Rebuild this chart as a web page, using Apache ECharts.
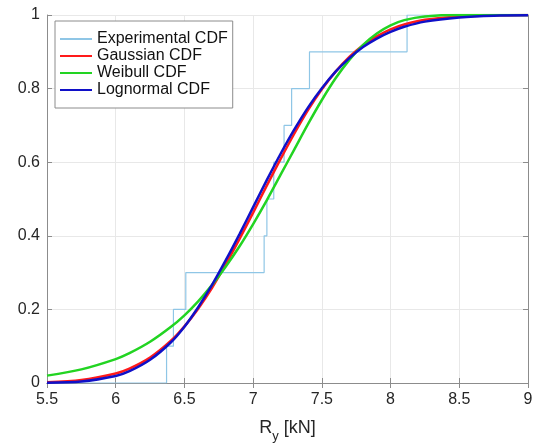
<!DOCTYPE html>
<html>
<head>
<meta charset="utf-8">
<script src="https://cdn.jsdelivr.net/npm/echarts@6/dist/echarts.min.js"></script>
<style>html,body{margin:0;padding:0;background:#fff;}#c{width:538px;height:448px;}</style>
</head>
<body>
<div id="c"></div>
<script>
// Experimental CDF steps (x, cumulative probability)
var expX = [5.5, 6.37, 6.42, 6.51, 7.08, 7.10, 7.15, 7.225, 7.28, 7.41, 8.12, 9.0];
var expY = [0, 0.1, 0.2, 0.3, 0.4, 0.5, 0.6, 0.7, 0.8, 0.9, 1.0, 1.0];

var curveX = [5.5, 5.75, 6.0, 6.1, 6.25, 6.4, 6.5, 6.6, 6.7, 6.8, 6.9, 7.0, 7.1, 7.2, 7.3, 7.4, 7.5, 7.6, 7.7, 7.8, 7.9, 8.0, 8.1, 8.25, 8.5, 8.75, 9.0];
var gaussY = [0.002, 0.008, 0.026, 0.039, 0.069, 0.114, 0.154, 0.202, 0.258, 0.322, 0.391, 0.463, 0.537, 0.609, 0.678, 0.742, 0.798, 0.846, 0.886, 0.918, 0.942, 0.961, 0.974, 0.987, 0.996, 0.999, 1.0];
var weibY  = [0.020, 0.037, 0.065, 0.081, 0.112, 0.152, 0.184, 0.222, 0.266, 0.316, 0.371, 0.432, 0.497, 0.566, 0.635, 0.704, 0.769, 0.828, 0.878, 0.919, 0.950, 0.972, 0.986, 0.996, 1.0, 1.0, 1.0];
var logY   = [0.001, 0.004, 0.019, 0.032, 0.063, 0.110, 0.153, 0.206, 0.266, 0.333, 0.404, 0.478, 0.552, 0.623, 0.689, 0.749, 0.801, 0.846, 0.883, 0.913, 0.936, 0.954, 0.968, 0.982, 0.993, 0.998, 0.999];

var xTicks = [5.5, 6, 6.5, 7, 7.5, 8, 8.5, 9];
var yTicks = [0, 0.2, 0.4, 0.6, 0.8, 1];

var seriesNames = ['Experimental CDF', 'Gaussian CDF', 'Weibull CDF', 'Lognormal CDF'];

function pairs(xs, ys) { return xs.map(function (x, i) { return [x, ys[i]]; }); }

var font = 'Liberation Sans, Arial, Helvetica, sans-serif';
var axisCol = '#8c8c8c';
var textCol = '#262626';

var chart = echarts.init(document.getElementById('c'), null, {renderer: 'canvas'});
chart.setOption({
  animation: false,
  backgroundColor: '#fff',
  grid: {left: 47, right: 10, top: 15, bottom: 62, containLabel: false},
  legend: {
    orient: 'vertical', left: 55, top: 21,
    data: seriesNames,
    icon: 'rect', itemWidth: 32, itemHeight: 2, itemGap: 1,
    backgroundColor: '#fff', borderColor: '#8c8c8c', borderWidth: 1,
    padding: [10, 5, 10, 5],
    textStyle: {fontFamily: font, fontSize: 16, color: '#111'}
  },
  xAxis: [{
    type: 'value', min: xTicks[0], max: xTicks[xTicks.length - 1], interval: 0.5,
    position: 'bottom',
    axisLine: {show: true, lineStyle: {color: axisCol, width: 1}},
    axisTick: {show: true, inside: true, length: 5, lineStyle: {color: axisCol}},
    axisLabel: {fontFamily: font, fontSize: 16, color: textCol, margin: 9},
    splitLine: {show: true, lineStyle: {color: '#e8e8e8', width: 1}},
    name: '{a|R}{b|y}{a| [kN]}', nameLocation: 'middle', nameGap: 36,
    nameTextStyle: {
      fontFamily: font, color: textCol,
      rich: {
        a: {fontFamily: font, fontSize: 18, color: textCol, verticalAlign: 'bottom', padding: [0, 0, 6, 0]},
        b: {fontFamily: font, fontSize: 13, color: textCol, verticalAlign: 'bottom'}
      }
    }
  }, {
    type: 'value', min: xTicks[0], max: xTicks[xTicks.length - 1], interval: 0.5,
    position: 'top',
    axisLine: {show: true, lineStyle: {color: axisCol, width: 1}},
    axisTick: {show: true, inside: true, length: 5, lineStyle: {color: axisCol}},
    axisLabel: {show: false}, splitLine: {show: false}
  }],
  yAxis: [{
    type: 'value', min: 0, max: 1, interval: 0.2,
    position: 'left',
    axisLine: {show: true, lineStyle: {color: axisCol, width: 1}},
    axisTick: {show: true, inside: true, length: 5, lineStyle: {color: axisCol}},
    axisLabel: {fontFamily: font, fontSize: 16, color: textCol, margin: 7,
      formatter: function (v) { return String(Math.round(v * 10) / 10); }},
    splitLine: {show: true, lineStyle: {color: '#e8e8e8', width: 1}}
  }, {
    type: 'value', min: 0, max: 1, interval: 0.2,
    position: 'right',
    axisLine: {show: true, lineStyle: {color: axisCol, width: 1}},
    axisTick: {show: true, inside: true, length: 5, lineStyle: {color: axisCol}},
    axisLabel: {show: false}, splitLine: {show: false}
  }],
  series: [{
    name: seriesNames[0], type: 'line', step: 'end', showSymbol: false,
    data: pairs(expX, expY),
    lineStyle: {color: '#8fc6e6', width: 1.2}, itemStyle: {color: '#8fc6e6'}
  }, {
    name: seriesNames[1], type: 'line', smooth: 0.3, showSymbol: false,
    data: pairs(curveX, gaussY),
    lineStyle: {color: '#ff1a1a', width: 2.5}, itemStyle: {color: '#ff1a1a'}
  }, {
    name: seriesNames[2], type: 'line', smooth: 0.3, showSymbol: false,
    data: pairs(curveX, weibY),
    lineStyle: {color: '#22d422', width: 2.5}, itemStyle: {color: '#22d422'}
  }, {
    name: seriesNames[3], type: 'line', smooth: 0.3, showSymbol: false,
    data: pairs(curveX, logY),
    lineStyle: {color: '#1010c8', width: 2.5}, itemStyle: {color: '#1010c8'}
  }]
});
</script>
</body>
</html>
